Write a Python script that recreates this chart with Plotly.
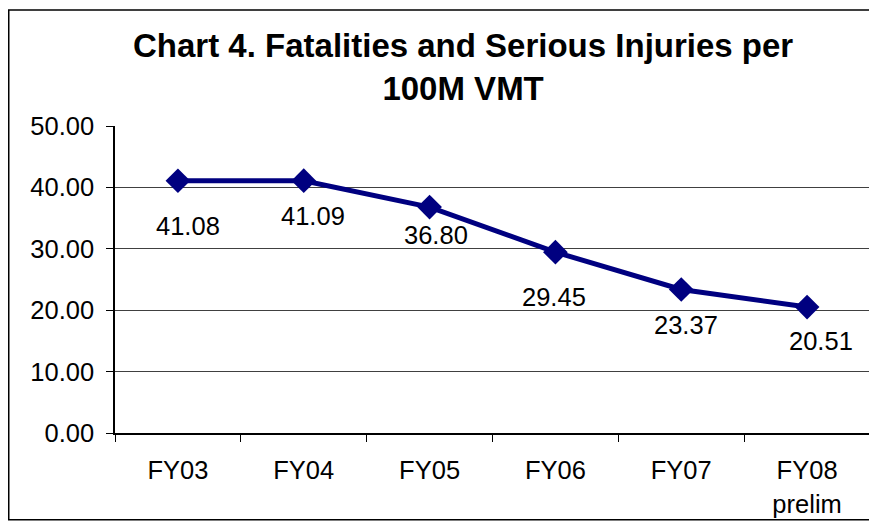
import plotly.graph_objects as go

categories = ["FY03", "FY04", "FY05", "FY06", "FY07", "FY08<br>prelim"]
values = [41.08, 41.09, 36.80, 29.45, 23.37, 20.51]
value_labels = ["41.08", "41.09", "36.80", "29.45", "23.37", "20.51"]
y_tickvals = [0, 10, 20, 30, 40, 50]
y_ticktext = ["0.00", "10.00", "20.00", "30.00", "40.00", "50.00"]
title_text = "Chart 4. Fatalities and Serious Injuries per<br>100M VMT"

# label pixel offsets (style)
label_dx = [10, 9, 6, -1, 5, 14]
label_dy = [-45, -35, -28, -45, -35, -34]

# page has an 8px body margin, so the figure is sized to fill the rest
W, H = 869, 517
L, R, T, B = 107, 7, 118, 89
pw = W - L - R
ph = H - T - B

FONT = "Arial, Liberation Sans, sans-serif"
FS = 25.5

fig = go.Figure()
fig.add_trace(go.Scatter(
    x=categories, y=values, mode="lines+markers",
    line=dict(color="#000080", width=5),
    marker=dict(symbol="diamond", size=19, color="#000080"),
    hoverinfo="skip", showlegend=False,
))

for c, v, t, dx, dy in zip(categories, values, value_labels, label_dx, label_dy):
    fig.add_annotation(x=c, y=v, text=t, showarrow=False, xshift=dx, yshift=dy,
                       font=dict(family=FONT, size=FS, color="black"),
                       xanchor="center", yanchor="middle")

def px_x(p):
    return (p - L) / pw

def px_y(p):
    return (H - B - p) / ph

# outer chart border
fig.add_shape(type="rect", xref="paper", yref="paper",
              x0=px_x(0.75), x1=px_x(867.5), y0=px_y(515.5), y1=px_y(0.75),
              line=dict(color="black", width=1.5), layer="below")
# right plot border
fig.add_shape(type="line", xref="paper", yref="paper",
              x0=1, x1=1, y0=0, y1=1, line=dict(color="#808080", width=1.5))

fig.add_annotation(xref="paper", yref="paper", x=px_x(455), y=px_y(58),
                   text="<b>" + title_text + "</b>", showarrow=False,
                   xanchor="center", yanchor="middle", align="center",
                   font=dict(family=FONT, size=33, color="black"))

fig.update_layout(
    width=W, height=H,
    margin=dict(l=L, r=R, t=T, b=B, pad=0),
    paper_bgcolor="white", plot_bgcolor="white",
    font=dict(family=FONT, size=FS, color="black"),
    xaxis=dict(type="category", showline=True, linecolor="black", linewidth=1.5,
               ticks="outside", ticklen=7, tickcolor="black", tickson="boundaries",
               showgrid=False, tickfont=dict(size=FS), ticklabelstandoff=14,
               range=[-0.5, 5.5], fixedrange=True),
    yaxis=dict(range=[0, 50], tickvals=y_tickvals, ticktext=y_ticktext,
               showline=True, linecolor="black", linewidth=1.5,
               ticks="outside", ticklen=7, tickcolor="black",
               showgrid=True, gridcolor="#404040", gridwidth=1,
               zeroline=False, tickfont=dict(size=FS), ticklabelstandoff=7),
)

fig.write_html("out.html")
